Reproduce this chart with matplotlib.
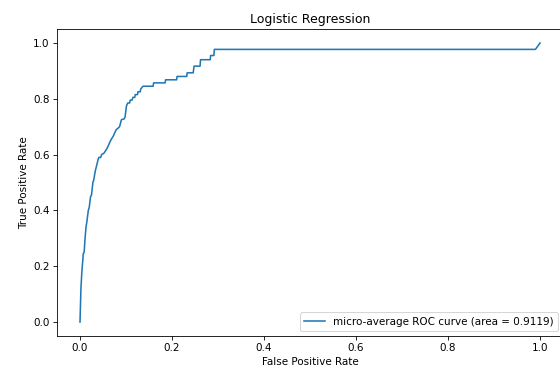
import matplotlib
matplotlib.use('Agg')
import matplotlib.pyplot as plt

# micro-averaged ROC points for the logistic regression model
fpr = [0.0, 0.001, 0.002, 0.004, 0.006, 0.007, 0.009, 0.011, 0.013, 0.015,
       0.018, 0.020, 0.023, 0.025, 0.028, 0.030, 0.033, 0.036, 0.039, 0.041,
       0.045, 0.047, 0.052, 0.054, 0.058, 0.061, 0.065, 0.068, 0.072, 0.076,
       0.079, 0.083, 0.086, 0.090, 0.096, 0.098, 0.101, 0.104, 0.108, 0.109,
       0.113, 0.115, 0.119, 0.120, 0.125, 0.126, 0.131, 0.132, 0.137, 0.159,
       0.160, 0.185, 0.186, 0.210, 0.211, 0.232, 0.233, 0.246, 0.248, 0.261,
       0.262, 0.283, 0.284, 0.291, 0.292, 0.990, 1.0]
tpr = [0.0, 0.06, 0.12, 0.18, 0.22, 0.245, 0.25, 0.30, 0.34, 0.36,
       0.40, 0.41, 0.45, 0.455, 0.50, 0.51, 0.54, 0.56, 0.58, 0.59,
       0.59, 0.60, 0.605, 0.61, 0.62, 0.63, 0.645, 0.655, 0.665, 0.68,
       0.69, 0.695, 0.70, 0.725, 0.728, 0.735, 0.775, 0.785, 0.785, 0.795,
       0.795, 0.805, 0.805, 0.815, 0.815, 0.825, 0.825, 0.835, 0.845, 0.845,
       0.857, 0.857, 0.868, 0.868, 0.880, 0.880, 0.893, 0.893, 0.917, 0.917,
       0.940, 0.940, 0.955, 0.955, 0.977, 0.977, 1.0]
roc_auc = 0.9119

fig = plt.figure(figsize=(560 / 75, 370 / 75), dpi=75)
ax = fig.add_axes([0.1018, 0.0919, 0.9036, 0.8297])
ax.plot(fpr, tpr, color='tab:blue', lw=1.5,
        label='micro-average ROC curve (area = {0:0.4f})'.format(roc_auc))
ax.set_xlabel('False Positive Rate')
ax.set_ylabel('True Positive Rate')
ax.set_title('Logistic Regression')
ax.legend(loc='lower right')
fig.savefig('out.png', dpi=75)
